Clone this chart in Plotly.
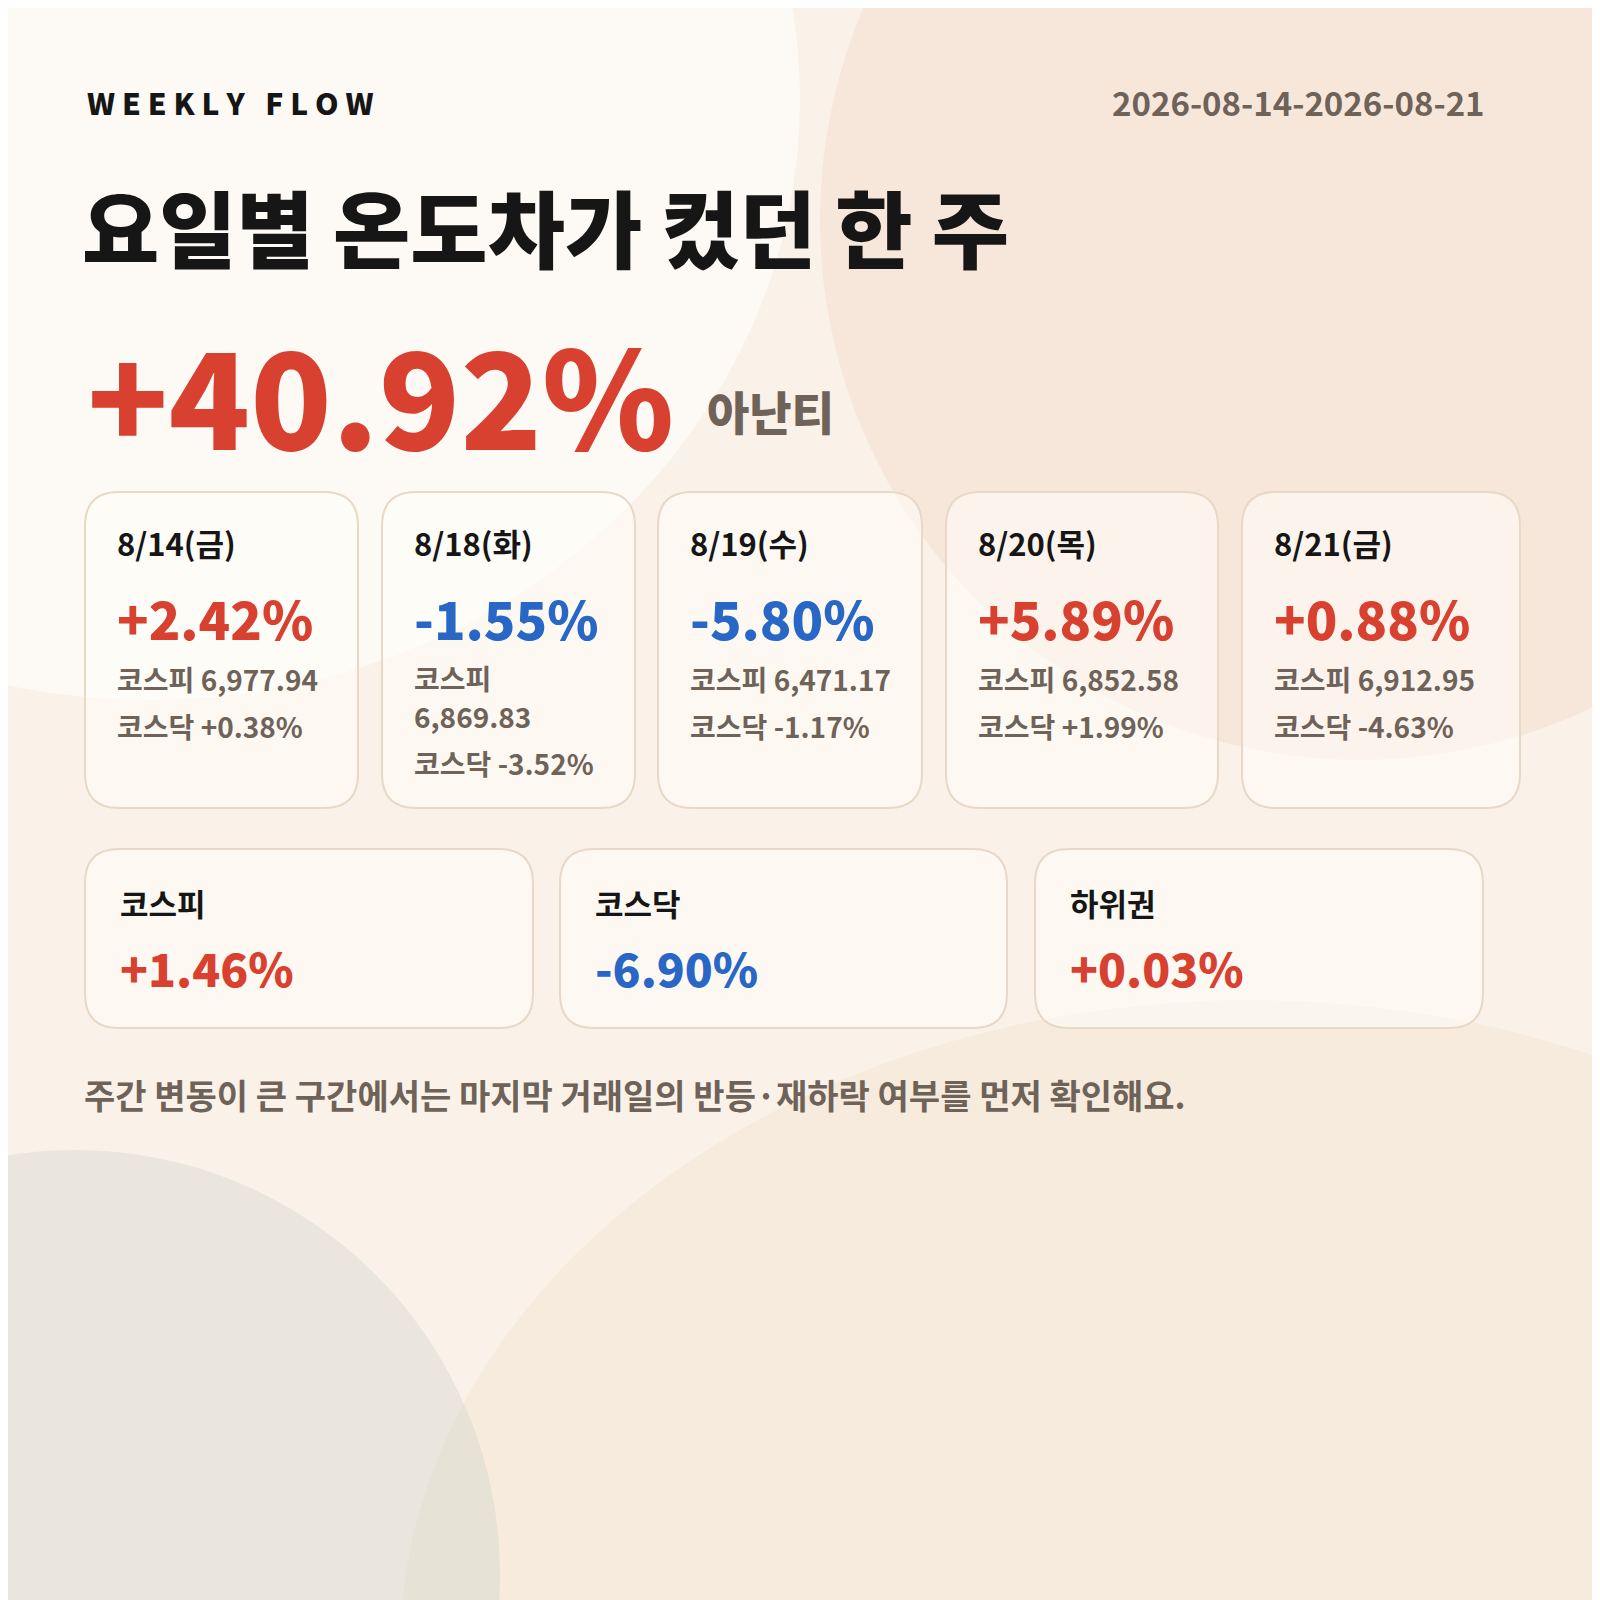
import plotly.graph_objects as go

# data
days = ["8/14(금)", "8/18(화)", "8/19(수)", "8/20(목)", "8/21(금)"]
day_changes = [2.42, -1.55, -5.80, 5.89, 0.88]
kospi_vals = ["6,977.94", "6,869.83", "6,471.17", "6,852.58", "6,912.95"]
kosdaq_changes = [0.38, -3.52, -1.17, 1.99, -4.63]
summary_labels = ["코스피", "코스닥", "하위권"]
summary_values = [1.46, -6.90, 0.03]
headline_value = 40.92
headline_name = "아난티"

RED, BLUE, GREY, INK = "#D8402F", "#2867C6", "#6E6259", "#161616"
FONT = "Noto Sans CJK KR"


def pct(v):
    return f"{v:+.2f}%"


def rrect(x0, y0, x1, y1, r=34):
    return (f"M{x0+r},{y0} L{x1-r},{y0} Q{x1},{y0} {x1},{y0+r} L{x1},{y1-r} "
            f"Q{x1},{y1} {x1-r},{y1} L{x0+r},{y1} Q{x0},{y1} {x0},{y1-r} "
            f"L{x0},{y0+r} Q{x0},{y0} {x0+r},{y0} Z")


shapes = [
    dict(type="circle", x0=820, y0=-320, x1=1900, y1=760, line_width=0,
         fillcolor="rgba(238,190,168,0.22)", layer="below"),
    dict(type="circle", x0=-500, y0=-500, x1=800, y1=700, line_width=0,
         fillcolor="rgba(255,255,255,0.55)", layer="below"),
    dict(type="circle", x0=400, y0=1000, x1=2100, y1=2300, line_width=0,
         fillcolor="rgba(240,220,192,0.30)", layer="below"),
    dict(type="circle", x0=-350, y0=1150, x1=500, y1=2000, line_width=0,
         fillcolor="rgba(210,212,205,0.40)", layer="below"),
]
ann = []


def text(x, y, s, size, color, weight=700, anchor="left"):
    ann.append(dict(x=x, y=y, text=s, showarrow=False, xanchor=anchor, yanchor="middle",
                    align="left", font=dict(family=FONT, size=size, color=color, weight=weight)))


text(85, 102, "W E E K L Y  &nbsp;F L O W", 30, INK, 900)
text(1487, 102, "2026-08-14-2026-08-21", 33, GREY, 700, "right")
text(80, 225, "요일별 온도차가 컸던 한 주", 84, INK, 900)
text(85, 392, pct(headline_value), 134, RED, 900)
text(705, 410, headline_name, 46, GREY, 900)

card_x = [(85, 358), (382, 635), (658, 922), (946, 1218), (1242, 1520)]
for (x0, x1), d, c, kp, kq in zip(card_x, days, day_changes, kospi_vals, kosdaq_changes):
    shapes.append(dict(type="path", path=rrect(x0, 492, x1, 808), line=dict(color="#E8D8C6", width=2),
                       fillcolor="rgba(255,253,248,0.6)"))
    tx = x0 + 30
    text(tx, 542, d, 31, INK, 700)
    text(tx, 617, pct(c), 52, RED if c > 0 else BLUE, 900)
    if x1 - x0 < 260:
        text(tx, 678, "코스피", 28, GREY, 700)
        text(tx, 716, kp, 28, GREY, 700)
        text(tx, 763, f"코스닥 {pct(kq)}", 28, GREY, 700)
    else:
        text(tx, 679, f"코스피 {kp}", 28, GREY, 700)
        text(tx, 726, f"코스닥 {pct(kq)}", 28, GREY, 700)

sum_x = [(85, 533), (560, 1007), (1035, 1483)]
for (x0, x1), lab, v in zip(sum_x, summary_labels, summary_values):
    shapes.append(dict(type="path", path=rrect(x0, 849, x1, 1028), line=dict(color="#E8D8C6", width=2),
                       fillcolor="rgba(255,253,248,0.6)"))
    text(x0 + 33, 902, lab, 31, INK, 700)
    text(x0 + 33, 967, pct(v), 46, RED if v > 0 else BLUE, 900)

text(82, 1094, "주간 변동이 큰 구간에서는 마지막 거래일의 반등·재하락 여부를 먼저 확인해요.", 34, GREY, 700)

fig = go.Figure()
# page has an 8px body margin, so shift the coordinate frame to page pixels
fig.update_layout(
    width=1600, height=1600, autosize=False, margin=dict(l=0, r=0, t=0, b=0),
    paper_bgcolor="#FAF2E8", plot_bgcolor="#FAF2E8",
    xaxis=dict(range=[8, 1608], visible=False, fixedrange=True),
    yaxis=dict(range=[1608, 8], visible=False, fixedrange=True),
    shapes=shapes, annotations=ann, showlegend=False,
)
fig.write_html("out.html")
